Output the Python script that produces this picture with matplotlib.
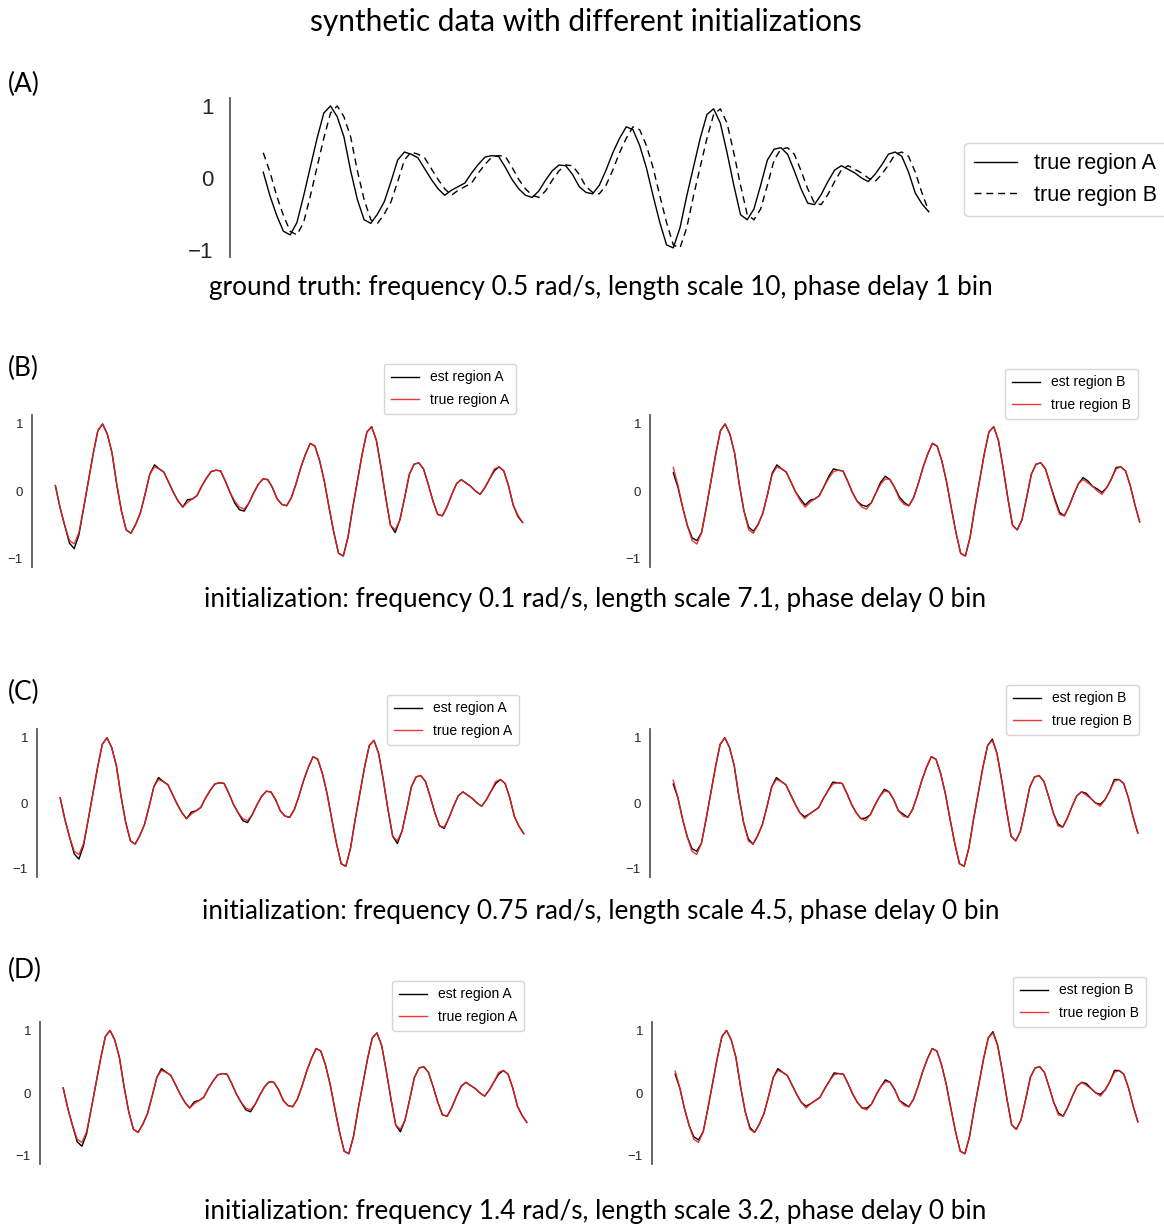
"""
Synthetic data panel: ground truth signals and estimates for four initializations.
"""
import numpy as np
import matplotlib
matplotlib.use('Agg')
import matplotlib.pyplot as plt

W, H = 1164, 1228

# true signal of region A, one value per bin
true_a = [
    0.08, -0.25, -0.52, -0.74, -0.79, -0.62, -0.25, 0.15, 0.55, 0.90,
    1.00, 0.85, 0.57, 0.10, -0.30, -0.58, -0.63, -0.50, -0.33, -0.05,
    0.25, 0.36, 0.33, 0.28, 0.13, -0.02, -0.15, -0.24, -0.17, -0.12,
    -0.07, 0.07, 0.19, 0.29, 0.31, 0.30, 0.15, -0.02, -0.15, -0.24,
    -0.27, -0.18, -0.03, 0.10, 0.18, 0.17, 0.05, -0.12, -0.20, -0.22,
    -0.10, 0.11, 0.35, 0.55, 0.71, 0.67, 0.45, 0.14, -0.25, -0.62,
    -0.93, -0.97, -0.69, -0.25, 0.15, 0.55, 0.88, 0.96, 0.76, 0.35,
    -0.10, -0.51, -0.58, -0.43, -0.10, 0.25, 0.40, 0.42, 0.33, 0.10,
    -0.15, -0.35, -0.37, -0.23, -0.05, 0.11, 0.17, 0.12, 0.07, 0.00,
    -0.05, 0.05, 0.18, 0.33, 0.36, 0.30, 0.08, -0.21, -0.36, -0.47]
# region B lags region A by one bin
true_b_first = 0.35
true_b_last = -0.46
true_b = [true_b_first] + true_a[:-2] + [true_b_last]

# estimate minus truth, only where the two curves visibly part
dev_b_a = {3: -0.04, 4: -0.07, 5: -0.03, 21: 0.03, 28: 0.04, 38: -0.03,
           39: -0.04, 40: -0.03, 72: -0.04, 93: -0.03, 98: -0.02}
dev_b_b = {0: -0.08, 1: -0.03, 4: 0.04, 5: 0.05, 16: 0.04, 17: 0.03,
           21: 0.02, 22: 0.03, 27: 0.03, 28: 0.03, 29: 0.03, 33: 0.03,
           34: 0.04, 40: 0.03, 41: 0.04, 44: 0.03, 45: 0.04, 48: 0.03,
           49: 0.03, 81: 0.03, 82: 0.03, 87: 0.03, 88: 0.03, 90: 0.03,
           91: 0.03, 94: 0.02}
dev_c_a = {3: -0.04, 4: -0.07, 5: -0.03, 21: 0.03, 28: 0.03, 39: -0.03,
           40: -0.03, 72: -0.04, 82: -0.02, 93: -0.03}
dev_c_b = {0: -0.06, 4: 0.04, 5: 0.05, 16: 0.03, 22: 0.03, 28: 0.03,
           34: 0.03, 41: 0.04, 45: 0.03, 49: 0.03, 68: 0.02, 82: 0.03,
           88: 0.03, 91: 0.03, 94: 0.03}
dev_d_a = {3: -0.04, 4: -0.06, 5: -0.03, 21: 0.03, 28: 0.03, 39: -0.03,
           40: -0.03, 72: -0.04, 93: -0.03}
dev_d_b = {0: -0.05, 4: 0.04, 5: 0.04, 16: 0.03, 22: 0.03, 28: 0.03,
           34: 0.03, 41: 0.03, 45: 0.03, 49: 0.03, 68: 0.02, 82: 0.03,
           88: 0.03, 91: 0.03, 94: 0.03}

title = 'synthetic data with different initializations'
captions = [
    'ground truth: frequency 0.5 rad/s, length scale 10, phase delay 1 bin',
    'initialization: frequency 0.1 rad/s, length scale 7.1, phase delay 0 bin',
    'initialization: frequency 0.75 rad/s, length scale 4.5, phase delay 0 bin',
    'initialization: frequency 1.4 rad/s, length scale 3.2, phase delay 0 bin',
]
panel_tags = ['(A)', '(B)', '(C)', '(D)']

CAP_FONT = ['Lato', 'DejaVu Sans']
AX_FONT = ['Liberation Sans', 'DejaVu Sans']


def apply_dev(values, dev):
    """Add sparse deviations to a series."""
    out = np.array(values, dtype=float)
    for idx, delta in dev.items():
        out[idx] += delta
    return out


def px_axes(fig, left, top, right, bottom):
    """Add axes given a pixel box (origin top left)."""
    return fig.add_axes([left / W, 1 - bottom / H,
                         (right - left) / W, (bottom - top) / H])


def style_axes(ax, ylim, size, pad):
    ax.set_ylim(*ylim)
    ax.set_yticks([-1, 0, 1])
    ax.set_xticks([])
    for side in ('top', 'right', 'bottom'):
        ax.spines[side].set_visible(False)
    ax.spines['left'].set_color('0.35')
    ax.spines['left'].set_linewidth(1.3)
    ax.tick_params(axis='y', length=0, pad=pad, labelsize=size,
                   labelcolor='0.15')
    for lab in ax.get_yticklabels():
        lab.set_family(AX_FONT)
    ax.margins(x=0.05)


def small_panel(fig, box, est, true, region, leg_box):
    ax = px_axes(fig, *box)
    x = np.arange(len(true))
    ax.plot(x, est, color='black', lw=1.0, label=f'est region {region}')
    ax.plot(x, true, color='#ee2020', lw=1.0, alpha=0.9,
            label=f'true region {region}')
    style_axes(ax, (-1.134, 1.134), 9.5, 6.5)
    l, t, r, b = box
    ax.legend(loc='lower left',
              bbox_to_anchor=((leg_box[0] - l) / (r - l),
                              (b - leg_box[1]) / (b - t)),
              prop={'family': AX_FONT, 'size': 10}, frameon=True,
              borderaxespad=0, handlelength=2.0, borderpad=0.5,
              labelspacing=0.62, edgecolor='0.8', fancybox=True)
    return ax


def main():
    fig = plt.figure(figsize=(W / 100, H / 100), dpi=100)

    fig.text(586 / W, 1 - 22 / H, title, ha='center', va='center',
             family=CAP_FONT, fontsize=21.5)

    # panel A
    ax = px_axes(fig, 230, 98, 962, 257)
    x = np.arange(len(true_a))
    ax.plot(x, true_a, color='black', lw=1.0, label='true region A')
    ax.plot(x, true_b, color='black', lw=1.0, ls=(0, (5, 3.5)),
            label='true region B')
    style_axes(ax, (-1.097, 1.11), 16, 12)
    ax.legend(loc='center left', bbox_to_anchor=(1.003, 0.487),
              prop={'family': AX_FONT, 'size': 15.5}, frameon=True,
              borderaxespad=0, edgecolor='0.8', labelspacing=0.5,
              borderpad=0.45)

    # panels B-D
    small_panel(fig, (32, 415, 546, 567), apply_dev(true_a, dev_b_a), true_a,
                'A', (384, 414))
    small_panel(fig, (650, 415, 1163, 567), apply_dev(true_b, dev_b_b), true_b,
                'B', (1005, 419))
    small_panel(fig, (37, 729, 547, 877), apply_dev(true_a, dev_c_a), true_a,
                'A', (387, 745))
    small_panel(fig, (650, 729, 1161, 877), apply_dev(true_b, dev_c_b), true_b,
                'B', (1006, 735))
    small_panel(fig, (40, 1022, 550, 1164), apply_dev(true_a, dev_d_a), true_a,
                'A', (392, 1031))
    small_panel(fig, (652, 1022, 1161, 1164), apply_dev(true_b, dev_d_b),
                true_b, 'B', (1013, 1027))

    cap_pos = [(601, 288), (595, 599), (601, 912), (595, 1211)]
    for text, (cx, cy) in zip(captions, cap_pos):
        fig.text(cx / W, 1 - cy / H, text, ha='center', va='center',
                 family=CAP_FONT, fontsize=18.8)
    tag_pos = [84, 368, 692, 970]
    for tag, ty in zip(panel_tags, tag_pos):
        fig.text(8 / W, 1 - ty / H, tag, ha='left', va='center',
                 family=CAP_FONT, fontsize=19)

    fig.savefig('out.png', dpi=100)


if __name__ == '__main__':
    main()
